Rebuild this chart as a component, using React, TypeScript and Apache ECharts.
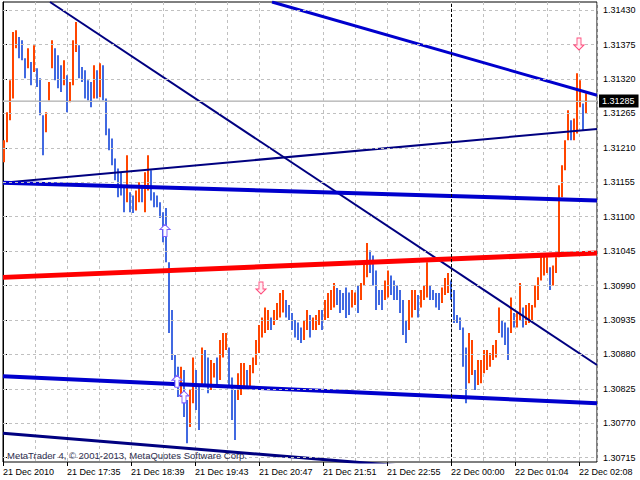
import React, { useEffect, useRef } from "react";
import * as echarts from "echarts";

// ---------- data ----------
const xLabels = [
  "21 Dec 2010", "21 Dec 17:35", "21 Dec 18:39", "21 Dec 19:43", "21 Dec 20:47",
  "21 Dec 21:51", "21 Dec 22:55", "22 Dec 00:00", "22 Dec 01:04", "22 Dec 02:08",
];
const xLabelStep = 64; // minutes between time labels
const xGridStep = 32; // minutes between vertical grid lines
const xSpan = 594; // minutes visible
const yTicks = [
  1.30715, 1.3077, 1.30825, 1.3088, 1.30935, 1.3099, 1.31045,
  1.311, 1.31155, 1.3121, 1.31265, 1.3132, 1.31375, 1.3143,
];
const yMin = 1.30708;
const yMax = 1.31443;
const barMinutes = 3;

const barHigh = [
  1.31222, 1.31267, 1.31318, 1.31395, 1.31398, 1.31387, 1.31382, 1.31353, 1.31369, 1.31347,
  1.31374, 1.31337, 1.31321, 1.31262, 1.31267, 1.31315, 1.31382, 1.31369, 1.31358, 1.31342,
  1.3135, 1.31326, 1.31315, 1.31382, 1.31411, 1.31374, 1.31339, 1.31334, 1.31318, 1.31315,
  1.31342, 1.31334, 1.31345, 1.31342, 1.31289, 1.31241, 1.31225, 1.31193, 1.31177, 1.31171,
  1.31146, 1.31198, 1.31139, 1.31134, 1.31142, 1.31155, 1.31146, 1.31171, 1.31198, 1.31174,
  1.31139, 1.31134, 1.31123, 1.31107, 1.31114, 1.31027, 1.30951, 1.30879, 1.3086, 1.3086,
  1.30855, 1.30807, 1.30823, 1.30875, 1.30855, 1.30828, 1.30891, 1.30887, 1.30875, 1.30871,
  1.30866, 1.30875, 1.30903, 1.30914, 1.30914, 1.30891, 1.30843, 1.30823, 1.3085, 1.30866,
  1.30866, 1.30855, 1.30863, 1.30875, 1.30903, 1.30927, 1.30939, 1.30955, 1.30951, 1.30939,
  1.30951, 1.30962, 1.30978, 1.30983, 1.30967, 1.30959, 1.30946, 1.30935, 1.30931, 1.30923,
  1.30935, 1.30951, 1.30943, 1.30939, 1.30943, 1.30951, 1.30951, 1.30967, 1.30978, 1.30983,
  1.30994, 1.30986, 1.30983, 1.30978, 1.30987, 1.30979, 1.30983, 1.30979, 1.3099, 1.30994,
  1.3103, 1.31058, 1.31046, 1.31038, 1.31014, 1.30983, 1.30983, 1.30998, 1.31014, 1.31006,
  1.30998, 1.3099, 1.30983, 1.30967, 1.30935, 1.30967, 1.30983, 1.30983, 1.30975, 1.30983,
  1.3099, 1.31027, 1.3099, 1.30983, 1.30978, 1.30978, 1.30987, 1.31002, 1.3101, 1.30998,
  1.30983, 1.30943, 1.30939, 1.30923, 1.30891, 1.30914, 1.30903, 1.30855, 1.30871, 1.30871,
  1.30887, 1.30887, 1.30882, 1.30895, 1.30903, 1.30955, 1.30935, 1.30931, 1.30923, 1.30971,
  1.30946, 1.30946, 1.30994, 1.30955, 1.30959, 1.30962, 1.30959, 1.3099, 1.31003, 1.31042,
  1.31038, 1.31035, 1.31019, 1.31022, 1.31035, 1.3115, 1.31182, 1.31222, 1.3127, 1.31254,
  1.31257, 1.31329, 1.31318, 1.31281, 1.31297,
];
const barLow = [
  1.31187, 1.31219, 1.31254, 1.31289, 1.31369, 1.31353, 1.3135, 1.31321, 1.31337, 1.3131,
  1.31331, 1.31307, 1.31262, 1.31198, 1.31235, 1.31286, 1.31337, 1.31318, 1.31305, 1.31299,
  1.3131, 1.31267, 1.31283, 1.3131, 1.31363, 1.31321, 1.31315, 1.31289, 1.31286, 1.31275,
  1.31289, 1.31289, 1.31291, 1.31286, 1.3123, 1.31206, 1.31182, 1.31158, 1.31131, 1.31134,
  1.31107, 1.31123, 1.31107, 1.31106, 1.3111, 1.31123, 1.31123, 1.31107, 1.31142, 1.31126,
  1.31115, 1.31115, 1.31098, 1.31059, 1.31027, 1.30914, 1.30871, 1.30828, 1.30812, 1.30812,
  1.3078, 1.30738, 1.30764, 1.30802, 1.30791, 1.30759, 1.30828, 1.30831, 1.30818, 1.30823,
  1.30843, 1.30828, 1.30839, 1.30875, 1.30887, 1.30828, 1.30775, 1.30743, 1.30807, 1.30815,
  1.30828, 1.30828, 1.30828, 1.3085, 1.30863, 1.30882, 1.30907, 1.30914, 1.30919, 1.30919,
  1.30927, 1.30935, 1.30939, 1.30947, 1.30939, 1.30935, 1.30919, 1.30907, 1.30903, 1.30898,
  1.30903, 1.30919, 1.30907, 1.30919, 1.30919, 1.30927, 1.30919, 1.30935, 1.30938, 1.30951,
  1.30955, 1.30959, 1.30946, 1.30951, 1.30938, 1.30943, 1.30955, 1.30959, 1.30946, 1.30967,
  1.3099, 1.31003, 1.3101, 1.3099, 1.30951, 1.30959, 1.30951, 1.30967, 1.30971, 1.30975,
  1.30967, 1.30967, 1.30946, 1.30911, 1.30898, 1.30919, 1.30939, 1.30951, 1.30939, 1.30955,
  1.30967, 1.30971, 1.30967, 1.30967, 1.30955, 1.30951, 1.30962, 1.30975, 1.30978, 1.30967,
  1.3093, 1.3093, 1.30919, 1.3086, 1.30802, 1.30834, 1.30847, 1.30823, 1.30831, 1.30834,
  1.3085, 1.30855, 1.3086, 1.30871, 1.30875, 1.30914, 1.30907, 1.30895, 1.30871, 1.30914,
  1.30923, 1.30923, 1.30935, 1.30923, 1.30927, 1.3093, 1.30935, 1.30955, 1.30967, 1.30998,
  1.31006, 1.3101, 1.30983, 1.3099, 1.3101, 1.31035, 1.31131, 1.31174, 1.31222, 1.31222,
  1.31222, 1.31233, 1.31275, 1.31238, 1.31265,
];

const bidPrice = 1.31285;
const separatorTime = 448;

// trend lines: [minute, price] end points
const lineA = [[47, 1.31443], [594, 1.30863]];
const lineB = [[269, 1.31443], [594, 1.31294]];
const lineC = [[0, 1.31154], [594, 1.3124]];
const lineD = [[0, 1.31154], [594, 1.31126]];
const lineE = [[0, 1.31003], [594, 1.31042]];
const lineF = [[0, 1.30845], [594, 1.30802]];
const lineG = [[0, 1.30754], [594, 1.30676]];

const upArrows = [[162, 1.31078], [174, 1.30837], [181, 1.30812]];
const downArrows = [[258, 1.30986], [576, 1.31376]];

const watermark = "MetaTrader 4, © 2001-2013, MetaQuotes Software Corp.";

// ---------- styles ----------
const UP = "#FF4500";
const DOWN = "#4169E1";
const NAVY = "#000080";
const MBLUE = "#0000CD";
const RED = "#FF0000";
const GRID = "#C0C0C0";
const FONT = '"Liberation Sans", Arial, sans-serif';

const UP_ARROW = "path://M5,0 L10,5 L7,5 L7,12 L3,12 L3,5 L0,5 Z";
const DOWN_ARROW = "path://M3,0 L7,0 L7,7 L10,7 L5,12 L0,7 L3,7 Z";

function buildOption() {
  const bars = barHigh.map((h, i) => {
    const mid = (h + barLow[i]) / 2;
    const prevMid = i > 0 ? (barHigh[i - 1] + barLow[i - 1]) / 2 : mid - 1;
    return [i * barMinutes, h, barLow[i], mid >= prevMid ? 1 : 0];
  });
  const xTickValues = xLabels.map((_, i) => i * xLabelStep);

  const trend = (data: number[][], color: string, width: number) => ({
    type: "line",
    data,
    symbol: "none",
    silent: true,
    z: 4,
    lineStyle: { color, width },
    clip: true,
  });

  return {
    animation: false,
    backgroundColor: "#fff",
    grid: {
      left: 3, right: 43, top: 2, bottom: 18,
      show: true, borderColor: "#000", borderWidth: 1, backgroundColor: "#fff",
    },
    xAxis: [
      {
        type: "value", min: 0, max: xSpan, interval: xGridStep,
        axisLine: { show: false }, axisTick: { show: false }, axisLabel: { show: false },
        splitLine: { show: true, lineStyle: { color: GRID, type: [3, 3], width: 1 } },
      },
      {
        type: "value", min: 0, max: xSpan, interval: xLabelStep, position: "bottom",
        axisLine: { show: false },
        axisTick: { show: true, length: 4, customValues: xTickValues, lineStyle: { color: "#000" } },
        axisLabel: {
          show: true, customValues: xTickValues, align: "left", margin: 5,
          fontSize: 9, fontFamily: FONT, color: "#000",
          formatter: (v: number) => xLabels[Math.round(v / xLabelStep)] ?? "",
        },
        splitLine: { show: false },
      },
    ],
    yAxis: {
      type: "value", position: "right", min: yMin, max: yMax,
      axisLine: { show: true, lineStyle: { color: "#000" } },
      axisTick: { show: true, length: 4, customValues: yTicks, lineStyle: { color: "#000" } },
      axisLabel: {
        show: true, customValues: yTicks, margin: 6, fontSize: 9, fontFamily: FONT, color: "#000",
        formatter: (v: number) => v.toFixed(5),
      },
      splitLine: { show: false },
    },
    graphic: [
      {
        type: "text", left: 7, top: 450, z: 10,
        style: { text: watermark, font: `9.5px ${FONT}`, fill: "#2F2F4F" },
      },
    ],
    series: [
      {
        type: "line",
        data: [[0, bidPrice], [xSpan, bidPrice]],
        symbol: "none",
        silent: true,
        z: 1,
        lineStyle: { color: GRID, width: 1 },
        markLine: {
          silent: true,
          symbol: "none",
          animation: false,
          precision: 5,
          label: { show: false },
          data: [
            ...yTicks.map((v) => ({ yAxis: v, lineStyle: { color: GRID, type: [3, 3], width: 1 } })),
            { xAxis: separatorTime, lineStyle: { color: "#000", type: [3, 2], width: 1 } },
            {
              yAxis: bidPrice,
              lineStyle: { color: GRID, type: "solid", width: 1 },
              label: {
                show: true, position: "end", distance: 2,
                formatter: () => bidPrice.toFixed(5),
                color: "#fff", backgroundColor: "#000", padding: [2, 4, 2, 3],
                fontSize: 9, fontFamily: FONT,
              },
            },
          ],
        },
      },
      {
        type: "custom",
        z: 2,
        silent: true,
        encode: { x: 0, y: [1, 2] },
        data: bars,
        renderItem: (_params: any, api: any) => {
          const start = api.value(0);
          const p1 = api.coord([start, api.value(1)]);
          const p2 = api.coord([start + barMinutes, api.value(2)]);
          const w = p2[0] - p1[0];
          return {
            type: "rect",
            shape: { x: p1[0], y: p1[1], width: Math.max(1, w - 1), height: Math.max(1, p2[1] - p1[1]) },
            style: { fill: api.value(3) ? UP : DOWN },
          };
        },
      },
      trend(lineA, NAVY, 2),
      trend(lineB, MBLUE, 3),
      trend(lineC, NAVY, 2),
      trend(lineD, MBLUE, 4),
      trend(lineE, RED, 5),
      trend(lineF, MBLUE, 4),
      trend(lineG, NAVY, 3),
      {
        type: "scatter", data: upArrows, symbol: UP_ARROW, symbolSize: [10, 12], z: 5, silent: true,
        itemStyle: { color: "#FFFFFF", borderColor: "#7F5FFF", borderWidth: 1, opacity: 1 },
      },
      {
        type: "scatter", data: downArrows, symbol: DOWN_ARROW, symbolSize: [10, 12], z: 5, silent: true,
        itemStyle: { color: "#FFF0F4", borderColor: "#FF4F7F", borderWidth: 1, opacity: 1 },
      },
    ],
  };
}

export default function App() {
  const ref = useRef<HTMLDivElement>(null);
  useEffect(() => {
    if (!ref.current) return;
    const chart = echarts.init(ref.current, null, { renderer: "svg" });
    chart.setOption(buildOption() as any);
    return () => chart.dispose();
  }, []);
  return (
    <div
      ref={ref}
      style={{ position: "fixed", left: 0, top: 0, width: 640, height: 480, background: "#fff" }}
    />
  );
}
